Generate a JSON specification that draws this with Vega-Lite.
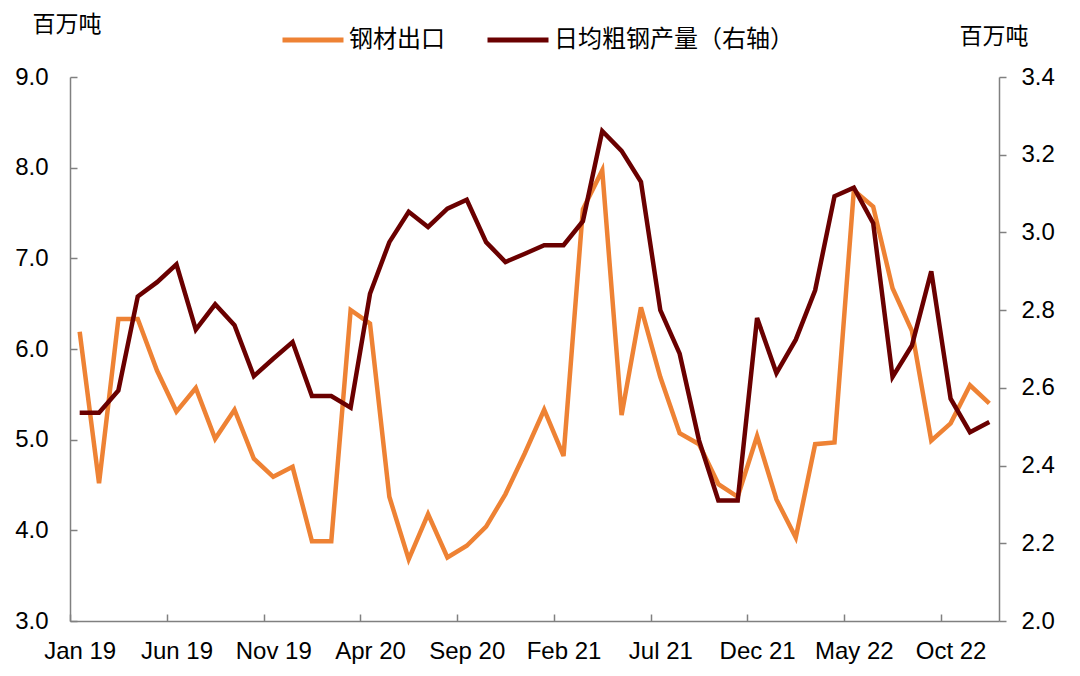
{
  "$schema": "https://vega.github.io/schema/vega-lite/v6.json",
  "autosize": {"type": "none"},
  "width": 929,
  "height": 544,
  "padding": {"left": 70, "top": 77, "right": 81, "bottom": 55},
  "background": "white",
  "config": {
    "view": {"stroke": null},
    "axis": {"grid": false, "domainColor": "#808080", "tickColor": "#808080", "domainWidth": 1.5, "tickWidth": 1.5, "labelColor": "#000000", "labelFont": "Liberation Sans", "labelFontSize": 24, "titleFont": "Noto Sans CJK SC", "titleFontSize": 23, "titleFontWeight": "normal", "titleColor": "#000000"}
  },
  "data": {"values": [
    {"month": "Jan 19", "export": 6.19, "output": 2.536},
    {"month": "Feb 19", "export": 4.52, "output": 2.536},
    {"month": "Mar 19", "export": 6.33, "output": 2.593},
    {"month": "Apr 19", "export": 6.33, "output": 2.835},
    {"month": "May 19", "export": 5.76, "output": 2.872},
    {"month": "Jun 19", "export": 5.31, "output": 2.918},
    {"month": "Jul 19", "export": 5.57, "output": 2.750},
    {"month": "Aug 19", "export": 5.01, "output": 2.815},
    {"month": "Sep 19", "export": 5.33, "output": 2.761},
    {"month": "Oct 19", "export": 4.79, "output": 2.630},
    {"month": "Nov 19", "export": 4.59, "output": 2.675},
    {"month": "Dec 19", "export": 4.70, "output": 2.718},
    {"month": "Jan 20", "export": 3.88, "output": 2.579},
    {"month": "Feb 20", "export": 3.88, "output": 2.579},
    {"month": "Mar 20", "export": 6.43, "output": 2.549},
    {"month": "Apr 20", "export": 6.28, "output": 2.842},
    {"month": "May 20", "export": 4.37, "output": 2.975},
    {"month": "Jun 20", "export": 3.68, "output": 3.053},
    {"month": "Jul 20", "export": 4.18, "output": 3.014},
    {"month": "Aug 20", "export": 3.70, "output": 3.061},
    {"month": "Sep 20", "export": 3.83, "output": 3.084},
    {"month": "Oct 20", "export": 4.04, "output": 2.975},
    {"month": "Nov 20", "export": 4.40, "output": 2.924},
    {"month": "Dec 20", "export": 4.85, "output": 2.945},
    {"month": "Jan 21", "export": 5.33, "output": 2.967},
    {"month": "Feb 21", "export": 4.82, "output": 2.967},
    {"month": "Mar 21", "export": 7.54, "output": 3.029},
    {"month": "Apr 21", "export": 7.97, "output": 3.261},
    {"month": "May 21", "export": 5.27, "output": 3.210},
    {"month": "Jun 21", "export": 6.46, "output": 3.130},
    {"month": "Jul 21", "export": 5.69, "output": 2.800},
    {"month": "Aug 21", "export": 5.07, "output": 2.688},
    {"month": "Sep 21", "export": 4.95, "output": 2.465},
    {"month": "Oct 21", "export": 4.51, "output": 2.310},
    {"month": "Nov 21", "export": 4.37, "output": 2.310},
    {"month": "Dec 21", "export": 5.04, "output": 2.780},
    {"month": "Jan 22", "export": 4.34, "output": 2.638},
    {"month": "Feb 22", "export": 3.92, "output": 2.724},
    {"month": "Mar 22", "export": 4.95, "output": 2.851},
    {"month": "Apr 22", "export": 4.97, "output": 3.093},
    {"month": "May 22", "export": 7.75, "output": 3.115},
    {"month": "Jun 22", "export": 7.57, "output": 3.024},
    {"month": "Jul 22", "export": 6.67, "output": 2.628},
    {"month": "Aug 22", "export": 6.20, "output": 2.709},
    {"month": "Sep 22", "export": 4.99, "output": 2.900},
    {"month": "Oct 22", "export": 5.18, "output": 2.572},
    {"month": "Nov 22", "export": 5.60, "output": 2.486},
    {"month": "Dec 22", "export": 5.40, "output": 2.512}
  ]},
  "encoding": {
    "x": {
      "field": "month", "type": "ordinal", "sort": null,
      "scale": {"type": "point", "padding": 0.5},
      "axis": {
        "title": null, "labelAngle": 0,
        "values": ["Jan 19", "Jun 19", "Nov 19", "Apr 20", "Sep 20", "Feb 21", "Jul 21", "Dec 21", "May 22", "Oct 22"],
        "tickOffset": -9.677, "labelOffset": 9.677, "tickSize": -7, "labelPadding": 25
      }
    }
  },
  "layer": [
    {
      "mark": {"type": "line", "strokeWidth": 4.5},
      "encoding": {
        "y": {
          "field": "export", "type": "quantitative",
          "scale": {"domain": [3, 9], "nice": false, "zero": false},
          "axis": {
            "orient": "left", "values": [3, 4, 5, 6, 7, 8, 9], "format": ".1f",
            "tickSize": -7, "labelPadding": 29,
            "title": "百万吨", "titleAngle": 0, "titleAlign": "left", "titleBaseline": "middle",
            "titleX": -38, "titleY": -53
          }
        },
        "color": {
          "datum": "钢材出口", "type": "nominal",
          "scale": {"domain": ["钢材出口", "日均粗钢产量（右轴）"], "range": ["#EE8234", "#6A0000"]},
          "legend": {
            "title": null, "orient": "none", "legendX": 210, "legendY": -70, "direction": "horizontal",
            "symbolType": "stroke", "symbolSize": 3721, "symbolStrokeWidth": 5,
            "labelFont": "Noto Sans CJK SC", "labelFontSize": 24, "labelColor": "#000000", "labelLimit": 400,
            "labelOffset": 3, "columnPadding": 32
          }
        }
      }
    },
    {
      "mark": {"type": "line", "strokeWidth": 4.5},
      "encoding": {
        "y": {
          "field": "output", "type": "quantitative",
          "scale": {"domain": [2, 3.4], "nice": false, "zero": false},
          "axis": {
            "orient": "right", "values": [2.0, 2.2, 2.4, 2.6, 2.8, 3.0, 3.2, 3.4], "format": ".1f",
            "tickSize": 7, "labelPadding": 15,
            "title": "百万吨", "titleAngle": 0, "titleAlign": "left", "titleBaseline": "middle",
            "titleX": -40, "titleY": -41
          }
        },
        "color": {"datum": "日均粗钢产量（右轴）", "type": "nominal"}
      }
    }
  ],
  "resolve": {"scale": {"y": "independent"}}
}
